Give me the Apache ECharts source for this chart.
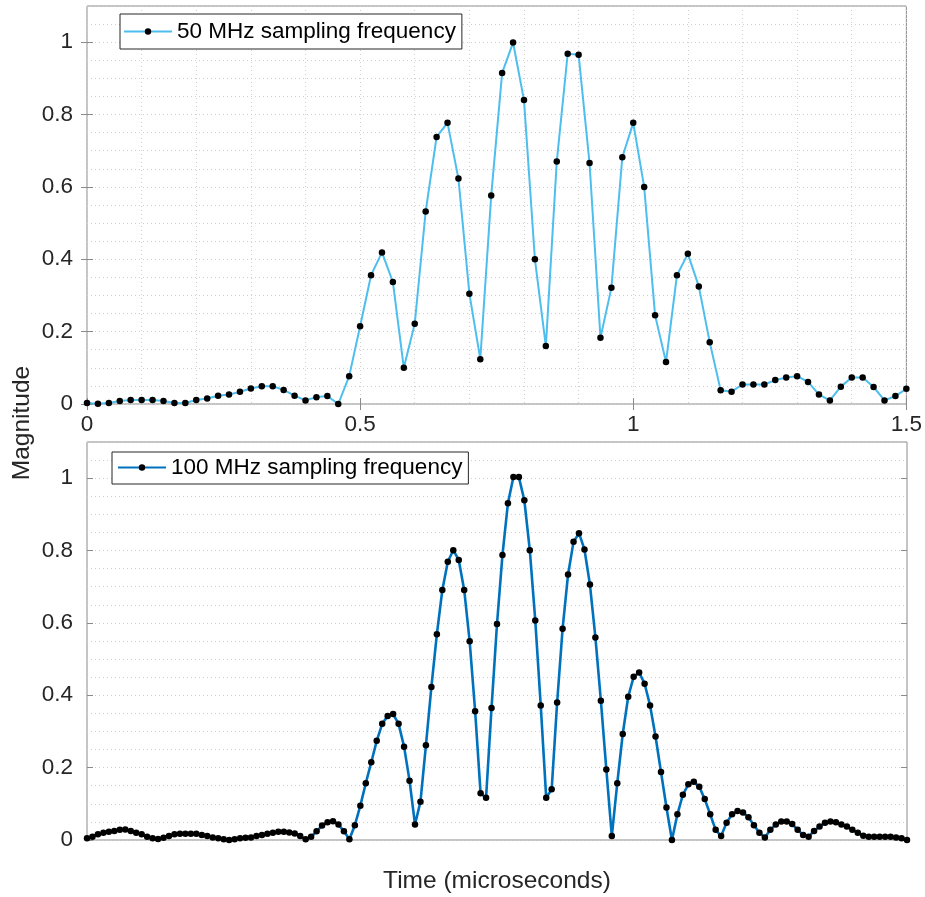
<!DOCTYPE html>
<html>
<head>
<meta charset="utf-8">
<title>Sampled pulse magnitude</title>
<script src="https://cdn.jsdelivr.net/npm/echarts@6/dist/echarts.min.js"></script>
<style>
  html, body { margin: 0; padding: 0; background: #fff; }
  #chart { width: 925px; height: 897px; }
</style>
</head>
<body>
<div id="chart"></div>
<script>
// Sample period in microseconds for each sampling rate
const dt50 = 0.02;
const dt100 = 0.01;

// Magnitude samples at 50 MHz (t = 0 .. 1.5 us)
const mag50 = [
  0.003, 0.001, 0.003, 0.008, 0.011, 0.011, 0.011, 0.008, 0.003, 0.003,
  0.011, 0.015, 0.023, 0.026, 0.034, 0.043, 0.049, 0.049, 0.039, 0.023,
  0.010, 0.019, 0.022, 0.000, 0.077, 0.215, 0.356, 0.419, 0.337, 0.100,
  0.222, 0.532, 0.738, 0.777, 0.623, 0.305, 0.124, 0.576, 0.915, 0.999,
  0.840, 0.400, 0.160, 0.670, 0.968, 0.965, 0.666, 0.183, 0.321, 0.682,
  0.777, 0.600, 0.245, 0.116, 0.356, 0.415, 0.325, 0.171, 0.038, 0.034,
  0.054, 0.054, 0.054, 0.066, 0.073, 0.077, 0.061, 0.026, 0.010, 0.048,
  0.073, 0.073, 0.047, 0.010, 0.022, 0.042
];

// Magnitude samples at 100 MHz (t = 0 .. 1.5 us)
const mag100 = [
  0.005, 0.009, 0.016, 0.020, 0.023, 0.025, 0.028, 0.029, 0.025, 0.020,
  0.016, 0.009, 0.005, 0.003, 0.006, 0.011, 0.016, 0.017, 0.017, 0.017,
  0.017, 0.014, 0.011, 0.007, 0.005, 0.002, 0.000, 0.002, 0.005, 0.006,
  0.007, 0.011, 0.014, 0.017, 0.020, 0.023, 0.023, 0.021, 0.018, 0.011,
  0.002, 0.009, 0.024, 0.040, 0.049, 0.052, 0.043, 0.024, 0.002, 0.041,
  0.095, 0.157, 0.215, 0.274, 0.321, 0.343, 0.348, 0.321, 0.258, 0.164,
  0.043, 0.106, 0.262, 0.423, 0.569, 0.691, 0.769, 0.801, 0.774, 0.691,
  0.549, 0.356, 0.129, 0.117, 0.365, 0.597, 0.788, 0.931, 1.003, 1.003,
  0.939, 0.801, 0.607, 0.372, 0.117, 0.140, 0.380, 0.584, 0.734, 0.824,
  0.848, 0.803, 0.706, 0.560, 0.385, 0.195, 0.011, 0.157, 0.293, 0.396,
  0.451, 0.463, 0.432, 0.372, 0.286, 0.188, 0.090, 0.000, 0.071, 0.125,
  0.154, 0.161, 0.147, 0.113, 0.071, 0.028, 0.011, 0.048, 0.071, 0.080,
  0.076, 0.063, 0.041, 0.020, 0.007, 0.028, 0.043, 0.051, 0.051, 0.044,
  0.028, 0.014, 0.009, 0.025, 0.037, 0.048, 0.051, 0.049, 0.043, 0.037,
  0.028, 0.020, 0.012, 0.009, 0.009, 0.009, 0.009, 0.009, 0.007, 0.005,
  0.000
];

const xTicks = [0, 0.5, 1, 1.5];
const xTickLabels = ['0', '0.5', '1', '1.5'];
const yTicks = [0, 0.2, 0.4, 0.6, 0.8, 1];
const yTickLabels = ['0', '0.2', '0.4', '0.6', '0.8', '1'];
const seriesNames = ['50 MHz sampling frequency', '100 MHz sampling frequency'];
const xTitle = 'Time (microseconds)';
const yTitle = 'Magnitude';

// Pair each sample with its time stamp
const toPairs = (vals, dt) => vals.map((v, i) => [+(i * dt).toFixed(4), v]);

const FONT = '"Liberation Sans", Arial, Helvetica, sans-serif';
const AXIS = '#8a8a8a';
const TEXT = '#262626';
const TICK_FS = 22.5;
const GRID_LINE = { show: true, lineStyle: { color: '#cfcfcf', type: [1, 3], width: 1 } };
const TICK = { show: true, inside: true, length: 6, lineStyle: { color: AXIS } };

const grids = [
  { left: 87, top: 6, width: 820, height: 398 },
  { left: 87, top: 442, width: 820, height: 398 }
];
grids.forEach(g => Object.assign(g, { show: true, borderColor: AXIS, borderWidth: 1, backgroundColor: '#fff', containLabel: false }));

const hidden = { axisLine: { show: false }, axisTick: { show: false }, axisLabel: { show: false } };

const labelOf = (ticks, labels) => v => {
  const idx = ticks.findIndex(t => Math.abs(t - v) < 1e-6);
  return idx >= 0 ? labels[idx] : '';
};

const xAxes = [
  // top panel: fine grid carrier
  Object.assign({ type: 'value', gridIndex: 0, min: 0, max: 1.5, interval: 0.1, splitLine: GRID_LINE }, hidden),
  // top panel: labelled bottom ticks
  { type: 'value', gridIndex: 0, min: 0, max: 1.5, position: 'bottom',
    axisLine: { show: false }, splitLine: { show: false },
    axisTick: Object.assign({ customValues: xTicks }, TICK),
    axisLabel: { show: true, customValues: xTicks, formatter: labelOf(xTicks, xTickLabels),
                 fontSize: TICK_FS, fontFamily: FONT, color: TEXT, margin: 9 } },
  // top panel: top ticks
  { type: 'value', gridIndex: 0, min: 0, max: 1.5, position: 'top',
    axisLine: { show: false }, splitLine: { show: false }, axisLabel: { show: false },
    axisTick: Object.assign({ customValues: xTicks }, TICK) },
  // bottom panel: data axis, no ticks
  Object.assign({ type: 'value', gridIndex: 1, min: 0, max: 1.5, splitLine: { show: false } }, hidden)
];

const makeY = gi => [
  Object.assign({ type: 'value', gridIndex: gi, min: 0, max: 1.1, interval: 0.05, splitLine: GRID_LINE }, hidden),
  { type: 'value', gridIndex: gi, min: 0, max: 1.1, position: 'left',
    axisLine: { show: false }, splitLine: { show: false },
    axisTick: Object.assign({ customValues: yTicks }, TICK),
    axisLabel: { show: true, customValues: yTicks, formatter: labelOf(yTicks, yTickLabels),
                 fontSize: TICK_FS, fontFamily: FONT, color: TEXT, margin: 14 } },
  { type: 'value', gridIndex: gi, min: 0, max: 1.1, position: 'right',
    axisLine: { show: false }, splitLine: { show: false }, axisLabel: { show: false },
    axisTick: Object.assign({ customValues: yTicks }, TICK) }
];
const yAxes = makeY(0).concat(makeY(1));

const lineSeries = (name, data, color, width, xi, yi) => ({
  name, type: 'line', data, xAxisIndex: xi, yAxisIndex: yi,
  symbol: 'circle', symbolSize: 6.5, showSymbol: true, clip: false,
  lineStyle: { color, width },
  itemStyle: { color: '#000' },
  emphasis: { disabled: true },
  animation: false
});

const legendBase = {
  orient: 'horizontal', itemWidth: 48, itemHeight: 8, itemGap: 0,
  backgroundColor: '#fff', borderColor: TEXT, borderWidth: 1, borderRadius: 0,
  textStyle: { fontSize: TICK_FS, fontFamily: FONT, color: '#000' },
  selectedMode: false
};

const option = {
  animation: false,
  backgroundColor: '#fff',
  grid: grids,
  xAxis: xAxes,
  yAxis: yAxes,
  legend: [
    Object.assign({}, legendBase, { data: [seriesNames[0]], left: 120, top: 14, padding: [6, 6, 6, 3] }),
    Object.assign({}, legendBase, { data: [seriesNames[1]], left: 112, top: 452, padding: [4, 6, 5, 5] })
  ],
  series: [
    lineSeries(seriesNames[0], toPairs(mag50, dt50), '#4DBEEE', 2, 0, 0),
    lineSeries(seriesNames[1], toPairs(mag100, dt100), '#0072BD', 2.6, 3, 3)
  ],
  graphic: [
    { type: 'text', x: 497, y: 881,
      style: { text: xTitle, fontSize: 24.5, fontFamily: FONT, fill: TEXT, align: 'center', verticalAlign: 'middle' } },
    { type: 'text', rotation: Math.PI / 2, x: 22, y: 423,
      style: { text: yTitle, fontSize: 24.5, fontFamily: FONT, fill: TEXT, align: 'center', verticalAlign: 'middle' } }
  ]
};

const chart = echarts.init(document.getElementById('chart'), null, { renderer: 'canvas' });
chart.setOption(option);
</script>
</body>
</html>
